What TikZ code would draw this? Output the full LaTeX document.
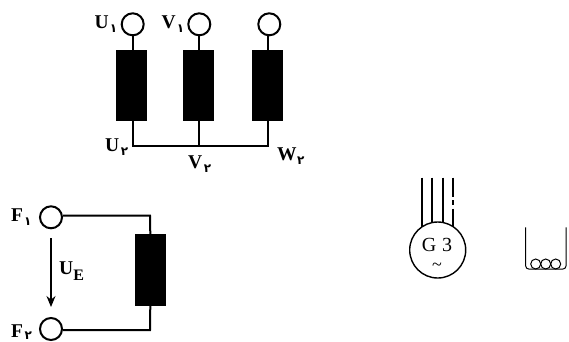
\documentclass[tikz,border=0pt]{standalone}
\usepackage{fontspec}
\usetikzlibrary{arrows.meta}
\setmainfont{Liberation Serif}
\newfontfamily\fadigit[Script=Arabic]{DejaVu Sans}
\newcommand{\one}{\hspace{1pt}\raisebox{-4pt}{\fontsize{12}{12}\fadigit ۱}}
\newcommand{\two}{\hspace{1.5pt}\raisebox{-4pt}{\fontsize{12}{12}\fadigit\bfseries ۲}}
\tikzset{
  x=1pt,y=-1pt,
  term/.style={draw,circle,fill=white,line width=2pt,minimum size=22pt,inner sep=0pt},
  coilbox/.style={draw,fill=black,minimum width=30pt,minimum height=70.5pt,inner sep=0pt},
  wire/.style={line width=2pt},
  gwire/.style={line width=1.7pt},
  fine/.style={draw,line width=1pt},
  loopc/.style={draw,circle,line width=1pt,minimum size=10pt,inner sep=0pt},
  lab/.style={inner sep=0pt,font=\fontsize{19.5}{19.5}\selectfont\bfseries},
}
\begin{document}
\begin{tikzpicture}
\useasboundingbox (0,0) rectangle (569,341);
% stator windings
\node[term] (u1) at (132.7,24.3) {};
\node[term] (v1) at (199.3,24.3) {};
\node[term] (w1) at (269.3,24.3) {};
\node[coilbox] (ub) at (131,85.3) {};
\node[coilbox] (vb) at (198.3,85.3) {};
\node[coilbox] (wb) at (267.3,85.3) {};
\coordinate (uj) at (133,145.7);
\coordinate (vj) at (199,145.7);
\coordinate (wj) at (268,145.7);
\draw[wire] (u1.south) -- (u1.south |- ub.north);
\draw[wire] (v1.south) -- (v1.south |- vb.north);
\draw[wire] (wj |- w1.south) -- (wj |- wb.north);
\draw[wire] (uj |- ub.south) -- (uj) -- (wj) -- (wj |- wb.south);
\draw[wire] (vj |- vb.south) -- (vj);
\node[lab,anchor=base west] (lu1) at (94.5,28) {U\one};
\node[lab,anchor=base west] (lv1) at (161.5,28) {V\one};
\node[lab,anchor=base west] (lu2) at (105,151.5) {U\two};
\node[lab,anchor=base west] (lv2) at (188,168) {V\two};
\node[lab,anchor=base west] (lw2) at (277,160) {W\hspace{-1pt}\two};
% field winding
\node[term] (f1) at (51,217.3) {};
\node[term] (f2) at (51,329) {};
\node[coilbox] (fb) at (150.3,269.7) {};
\coordinate (fc1) at (150,215.5);
\coordinate (fc2) at (150,330);
\draw[wire] (f1.east |- fc1) -- (fc1) -- (fb.north);
\draw[wire] (f2.east |- fc2) -- (fc2) -- (fb.south);
\coordinate (as) at (51,238);
\coordinate (ae) at (51,307);
\draw[line width=1.5pt,-{Stealth[length=11pt,width=9pt]}] (as) -- (ae);
\node[lab,anchor=base west] (lue) at (59,274) {U\raisebox{-6.5pt}{\fontsize{16}{16}\selectfont E}};
\node[lab,anchor=base west] (lf1) at (11,221.7) {F\one};
\node[lab,anchor=base west] (lf2) at (11,337.7) {F\hspace{1.5pt}\raisebox{-1.5pt}{\fontsize{12}{12}\fadigit\bfseries ۲}};
% generator symbol
\node[draw,circle,line width=1.4pt,minimum size=56pt,inner sep=0pt] (g) at (437.7,250) {};
\node[inner sep=0pt,font=\fontsize{20}{20}\selectfont] (gt) at (437,244.5) {G\hspace{1pt} 3};
\node[inner sep=0pt,font=\fontsize{18}{18}\selectfont] (gs) at (437,267) {\textasciitilde};
\coordinate (g1) at (422.3,177.7);
\coordinate (g2) at (432.3,177.7);
\coordinate (g3) at (442.7,177.7);
\coordinate (g4) at (453.3,177.7);
\draw[gwire] (g1) -- (422.3,226.5);
\draw[gwire] (g2) -- (432.3,222.5);
\draw[gwire] (g3) -- (442.7,222.5);
\draw[gwire] (g4) -- (453.3,196.7) (453.3,200) -- (453.3,205) (453.3,208.5) -- (453.3,226.5);
% coil symbol
\draw[fine,rounded corners=3pt] (525.7,227.3) -- (525.7,269) -- (566,269) -- (566,227.3);
\node[loopc] (c1) at (535.7,264) {};
\node[loopc] (c2) at (545.7,264) {};
\node[loopc] (c3) at (555.7,264) {};
\end{tikzpicture}
\end{document}
